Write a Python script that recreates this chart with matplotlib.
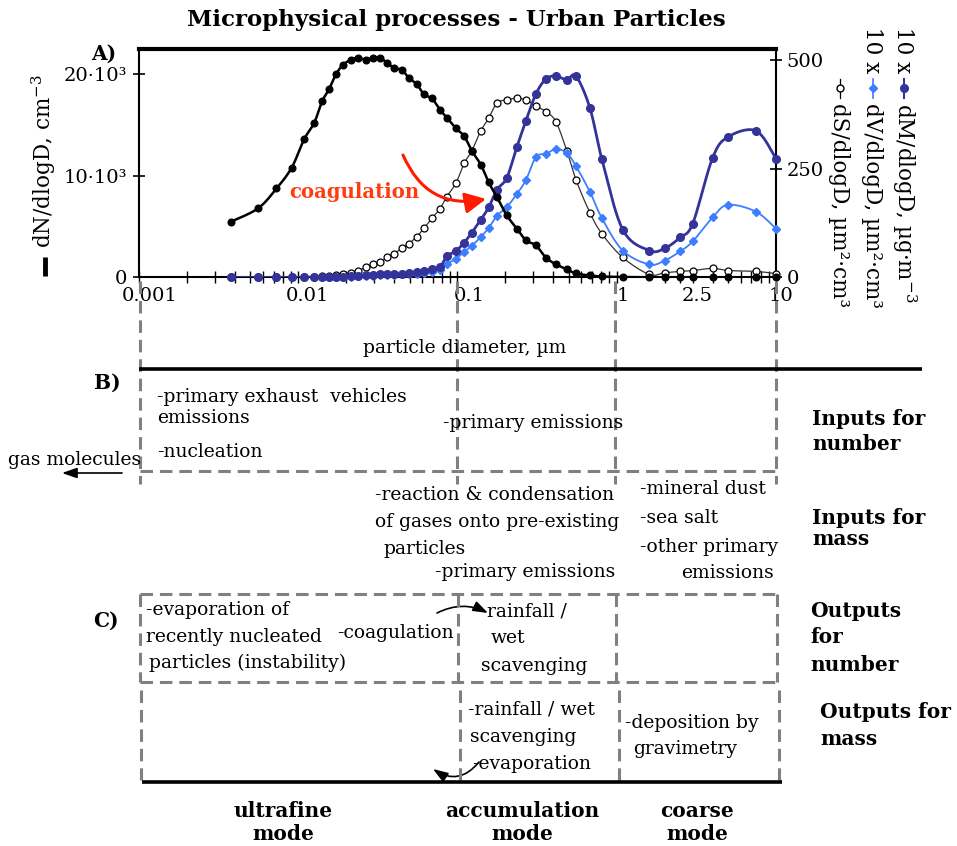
import numpy as np
import matplotlib
matplotlib.use("Agg")
import matplotlib.pyplot as plt
import matplotlib.transforms as mtrans
from matplotlib.patches import FancyArrowPatch
from matplotlib.ticker import LogLocator, NullFormatter, NullLocator

plt.rcParams.update({
    "font.family": "DejaVu Serif",
    "mathtext.fontset": "dejavuserif",
    "lines.scale_dashes": False,
})

# ---- size distribution data -------------------------------------------
diameter_um = [0.0038, 0.0056, 0.0073, 0.0091, 0.0109, 0.0126, 0.0141, 0.0156,
               0.0173, 0.0191, 0.0214, 0.0237, 0.0266, 0.0294, 0.0326, 0.0361,
               0.0399, 0.0448, 0.0495, 0.0556, 0.0615, 0.0690, 0.0776, 0.0857,
               0.0978, 0.110, 0.123, 0.140, 0.157, 0.177, 0.204, 0.236,
               0.269, 0.311, 0.359, 0.415, 0.486, 0.554, 0.678, 0.805,
               1.09, 1.6, 2.0, 2.5, 3.0, 4.0, 5.0, 7.5, 10.0]

# dN/dlogD, cm-3 (left axis)
number_conc = [5500, 6800, 8750, 10800, 13600, 15200, 17300, 18500,
               20000, 20900, 21400, 21600, 21400, 21600, 21600, 21100,
               20600, 20400, 19600, 19000, 18000, 17600, 16500, 15700,
               14650, 13900, 12450, 11100, 9350, 7900, 6100, 4800,
               3650, 3150, 1950, 1300, 800, 400, 200, 100,
               50, 20, 10, 10, 10, 5, 5, 5, 5]

# dS/dlogD, um2 cm-3 (right axis)
surface_area = [0.1, 0.2, 0.4, 0.7, 1.0, 1.5, 2.5, 3.5,
                5, 8, 11, 16, 23, 30, 35, 46,
                55, 67, 78, 94, 113, 136, 158, 186,
                217, 262, 291, 337, 366, 401, 408, 412,
                408, 394, 381, 358, 291, 225, 149, 101,
                46, 7, 11, 14, 16, 21, 16, 14, 9]

# 10 x dV/dlogD, um3 cm-3 (right axis)
volume_x10 = [0, 0, 0, 0, 0.3, 0.6, 0.7, 1.2,
              1.4, 1.5, 2, 3, 3.5, 4, 5, 6,
              6.5, 7, 8, 9, 11, 13, 17, 31,
              43, 59, 73, 93, 114, 142, 162, 192,
              224, 277, 284, 295, 286, 256, 197, 137,
              62, 30, 39, 60, 83, 138, 167, 151, 112]

# 10 x dM/dlogD, ug m-3 (right axis)
mass_x10 = [0, 0, 0, 0, 0.5, 1, 1, 2,
            2, 2, 2.5, 4, 5, 5.5, 7, 8,
            8.5, 9, 11, 13, 15, 19, 24, 49,
            61, 80, 103, 133, 161, 202, 229, 300,
            360, 422, 456, 463, 454, 463, 390, 273,
            110, 62, 67, 92, 124, 275, 323, 337, 273]

x_ticks = [0.001, 0.01, 0.1, 1, 2.5, 10]
x_tick_labels = ["0.001", "0.01", "0.1", "1", "2.5", "10"]
n_ticks = [0, 10000, 20000]
n_tick_labels = ["0", "10·10³", "20·10³"]
r_ticks = [0, 250, 500]
r_tick_labels = ["0", "250", "500"]

COL_M = "#333399"
COL_V = "#3d7dff"
GRAY = "#808080"

W, H = 957, 846


def smooth(x, y, n=10):
    """Catmull-Rom curve through the points in (log10 x, y) space."""
    P = np.column_stack([np.log10(x), np.asarray(y, float)])
    pts = np.vstack([P[0], P, P[-1]])
    t = np.linspace(0, 1, n, endpoint=False)[:, None]
    out = []
    for i in range(1, len(pts) - 2):
        p0, p1, p2, p3 = pts[i - 1], pts[i], pts[i + 1], pts[i + 2]
        seg = 0.5 * (2 * p1 + (-p0 + p2) * t + (2 * p0 - 5 * p1 + 4 * p2 - p3) * t ** 2
                     + (-p0 + 3 * p1 - 3 * p2 + p3) * t ** 3)
        out.append(seg)
    out.append(P[-1:])
    arr = np.vstack(out)
    return 10 ** arr[:, 0], np.clip(arr[:, 1], 0, None)


fig = plt.figure(figsize=(W / 100, H / 100), dpi=100)

# ---- panel A: size distributions --------------------------------------
L, R, T, B = 139, 776, 49, 277.5
ax = fig.add_axes([L / W, 1 - B / H, (R - L) / W, (B - T) / H])
ax2 = ax.twinx()

ax.set_xscale("log")
ax.set_xlim(0.001, 10)
ax.set_ylim(0, 525)
ax2.set_ylim(0, 22457)

# surface, volume, mass on the right-hand axis
sx, sy = smooth(diameter_um, surface_area)
ax.plot(sx, sy, color="#333333", lw=0.9, zorder=2)
ax.plot(diameter_um, surface_area, ls="none", marker="o", ms=5, mfc="white",
        mec="black", mew=0.9, zorder=3, clip_on=False)

vx, vy = smooth(diameter_um, volume_x10)
ax.plot(vx, vy, color=COL_V, lw=1.3, zorder=4)
ax.plot(diameter_um, volume_x10, ls="none", marker="D", ms=3.6, color=COL_V,
        zorder=5, clip_on=False)

mx, my = smooth(diameter_um, mass_x10)
ax.plot(mx, my, color=COL_M, lw=2.0, zorder=6)
ax.plot(diameter_um, mass_x10, ls="none", marker="o", ms=5.5, color=COL_M,
        zorder=7, clip_on=False)

# number on the left-hand axis
nx, ny = smooth(diameter_um, number_conc)
ax2.plot(nx, ny, color="black", lw=1.8, zorder=2)
ax2.plot(diameter_um, number_conc, ls="none", marker="o", ms=4.8,
         color="black", zorder=3, clip_on=False)

for s in ax2.spines.values():
    s.set_visible(False)
ax.spines["top"].set_linewidth(3.0)
for k in ("left", "right", "bottom"):
    ax.spines[k].set_linewidth(1.5)

ax.set_xticks(x_ticks)
ax.set_xticklabels(x_tick_labels)
ax.xaxis.set_minor_locator(LogLocator(base=10, subs=np.arange(2, 10), numticks=20))
ax.xaxis.set_minor_formatter(NullFormatter())
ax.tick_params(axis="x", which="both", direction="inout", length=8, width=1.0,
               labelsize=14, pad=3, top=False)

ax.yaxis.tick_right()
ax.set_yticks(r_ticks)
ax.set_yticklabels(r_tick_labels)
ax.yaxis.set_minor_locator(NullLocator())
ax.tick_params(axis="y", direction="inout", length=9, width=1.2, labelsize=14,
               pad=3, left=False, right=True, labelleft=False, labelright=True)

ax2.yaxis.tick_left()
ax2.set_yticks(n_ticks)
ax2.set_yticklabels(n_tick_labels)
ax2.yaxis.set_minor_locator(NullLocator())
ax2.tick_params(axis="y", direction="inout", length=9, width=1.2, labelsize=14,
                pad=4, left=True, right=False, labelleft=True, labelright=False)

# nudge x tick labels to the right
shifts = [11, 9, 12, 6, 17, 5]
for lbl, dx in zip(ax.get_xticklabels(), shifts):
    lbl.set_transform(lbl.get_transform() +
                      mtrans.ScaledTranslation(dx / 100, 0, fig.dpi_scale_trans))

# ---- overlay in pixel coordinates for labels and the process diagram ----
ov = fig.add_axes([0, 0, 1, 1], zorder=5)
ov.set_xlim(0, W)
ov.set_ylim(H, 0)
ov.axis("off")
ov.patch.set_visible(False)

BODY = 13.5
BOLD = 14.5
AXLAB = 15.5


def txt(x, y, s, size=BODY, weight="normal", ha="left", **kw):
    ov.text(x, y, s, fontsize=size, fontweight=weight, ha=ha, va="baseline", **kw)


def dash(x0, y0, x1, y1):
    ov.plot([x0, x1], [y0, y1], color=GRAY, lw=2.2, ls=(0, (9, 5)),
            dash_capstyle="butt", solid_capstyle="butt")


def arrow(p0, p1, rad=0.0, color="black", lw=1.1, scale=10, hl=0.9, hw=0.35):
    ov.add_patch(FancyArrowPatch(p0, p1, connectionstyle=f"arc3,rad={rad}",
                                 arrowstyle=f"-|>,head_length={hl},head_width={hw}",
                                 mutation_scale=scale, lw=lw, color=color,
                                 shrinkA=0, shrinkB=0))


txt(456, 26, "Microphysical processes - Urban Particles", size=16.5, weight="bold", ha="center")
txt(91, 60, "A)", size=BOLD, weight="bold")

# left axis title with its line key
ov.plot([45, 45], [257, 276], color="black", lw=3.5, solid_capstyle="butt")
ov.text(51, 248, "dN/dlogD, cm$^{-3}$", fontsize=AXLAB, rotation=90,
        rotation_mode="anchor", ha="left", va="baseline")

# right axis titles with their marker keys
right_keys = [
    (897, 904, "10 x", "dM/dlogD, µg·m$^{-3}$",
     dict(marker="o", ms=5.5, color=COL_M), 1.5),
    (866, 873, "10 x", "dV/dlogD, µm²·cm³",
     dict(marker="D", ms=4.5, color=COL_V), 1.2),
    (833, 840, None, "dS/dlogD, µm²·cm³",
     dict(marker="o", ms=5, mfc="white", mec="black", color="black"), 0.9),
]
for xb, xm, pre, label, mstyle, lw in right_keys:
    if pre:
        ov.text(xb, 27, pre, fontsize=AXLAB, rotation=-90, rotation_mode="anchor",
                ha="left", va="baseline")
    ov.plot([xm, xm], [79, 98], color=mstyle["color"], lw=lw)
    ov.plot([xm], [88.5], ls="none", **mstyle)
    ov.text(xb, 103, label, fontsize=AXLAB, rotation=-90, rotation_mode="anchor",
            ha="left", va="baseline")

# coagulation arrow inside the chart
txt(289, 198, "coagulation", size=14.2, weight="bold", color="#ff3b0f")
arrow((403, 155), (486, 199), rad=0.4, color="#ff1a00", lw=2.2, scale=14, hl=0.9, hw=0.45)

# ---- panel B ------------------------------------------------------------
for x in (140, 457, 615, 776):
    dash(x, 281, x, 484)
dash(140, 471, 776, 471)
ov.plot([139, 922], [369, 369], color="black", lw=2.6, solid_capstyle="butt")
txt(363, 353, "particle diameter, µm")

txt(94, 389, "B)", size=BOLD, weight="bold")
txt(157, 402, "-primary exhaust  vehicles")
txt(157, 423, "emissions")
txt(157, 457, "-nucleation")
txt(443, 428, "-primary emissions")
txt(8, 465, "gas molecules")
arrow((122, 473), (62, 473), lw=1.2, scale=9, hl=1.0, hw=0.35)

txt(375, 500, "-reaction & condensation")
txt(375, 527, "of gases onto pre-existing")
txt(384, 554, "particles")
txt(435, 577, "-primary emissions")
txt(640, 494, "-mineral dust")
txt(640, 523, "-sea salt")
txt(640, 552, "-other primary")
txt(681, 578, "emissions")

txt(812, 425, "Inputs for", size=BOLD, weight="bold")
txt(812, 450, "number", size=BOLD, weight="bold")
txt(812, 524, "Inputs for", size=BOLD, weight="bold")
txt(812, 545, "mass", size=BOLD, weight="bold")

# ---- panel C ------------------------------------------------------------
dash(140, 594, 777, 594)
dash(140, 682, 777, 682)
for x in (140, 458, 616, 777):
    dash(x, 594, x, 682)
for x in (141, 460, 619, 779):
    dash(x, 690, x, 780)
ov.plot([142, 782], [782, 782], color="black", lw=2.6, solid_capstyle="butt")

txt(93, 627, "C)", size=BOLD, weight="bold")
txt(146, 615, "-evaporation of")
txt(146, 642, "recently nucleated")
txt(149, 668, "particles (instability)")
txt(337, 638, "-coagulation")
arrow((437, 613), (488, 613), rad=-0.25, lw=1.2, scale=9, hl=1.0, hw=0.35)
txt(487, 617, "rainfall /")
txt(491, 643, "wet")
txt(481, 671, "scavenging")

txt(468, 715, "-rainfall / wet")
txt(470, 742, "scavenging")
txt(472, 769, "-evaporation")
arrow((479, 762), (433, 769), rad=-0.45, lw=1.2, scale=9, hl=1.0, hw=0.35)
txt(625, 728, "-deposition by")
txt(633, 754, "gravimetry")

txt(810, 617, "Outputs", size=BOLD, weight="bold")
txt(810, 643, "for", size=BOLD, weight="bold")
txt(810, 671, "number", size=BOLD, weight="bold")
txt(820, 718, "Outputs for", size=BOLD, weight="bold")
txt(820, 745, "mass", size=BOLD, weight="bold")

txt(283, 817, "ultrafine", size=BOLD, weight="bold", ha="center")
txt(283, 840, "mode", size=BOLD, weight="bold", ha="center")
txt(522, 817, "accumulation", size=BOLD, weight="bold", ha="center")
txt(522, 840, "mode", size=BOLD, weight="bold", ha="center")
txt(697, 817, "coarse", size=BOLD, weight="bold", ha="center")
txt(697, 840, "mode", size=BOLD, weight="bold", ha="center")

fig.savefig("out.png", dpi=100)
